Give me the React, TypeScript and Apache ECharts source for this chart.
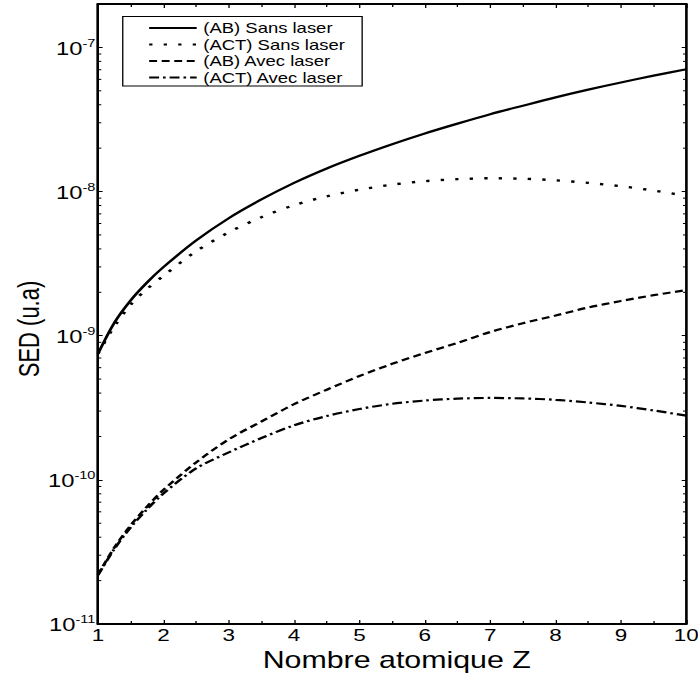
import React, { useEffect, useRef } from "react";
import * as echarts from "echarts";

// The reference is horizontally stretched; draw at natural width and stretch with CSS.
const STRETCH = 1.32;
const PAGE_W = 698;
const PAGE_H = 679;
const CHART_W = PAGE_W / STRETCH;

const seriesNames = [
  "(AB) Sans laser",
  "(ACT) Sans laser",
  "(AB) Avec laser",
  "(ACT) Avec laser",
];

const zValues = [1, 1.25, 1.5, 1.75, 2, 2.5, 3, 3.5, 4, 4.5, 5, 5.5, 6, 6.5, 7, 7.5, 8, 8.5, 9, 9.5, 10];

const abSansLaser = [
  7.5e-10, 1.23e-9, 1.76e-9, 2.34e-9, 2.99e-9, 4.57e-9, 6.53e-9, 8.81e-9, 1.148e-8, 1.445e-8, 1.77e-8,
  2.13e-8, 2.53e-8, 2.96e-8, 3.44e-8, 3.94e-8, 4.5e-8, 5.09e-8, 5.71e-8, 6.37e-8, 7.05e-8,
];

const actSansLaser = [
  7.5e-10, 1.16e-9, 1.64e-9, 2.11e-9, 2.6e-9, 3.85e-9, 5.21e-9, 6.64e-9, 8.04e-9, 9.27e-9, 1.03e-8,
  1.117e-8, 1.18e-8, 1.219e-8, 1.236e-8, 1.227e-8, 1.197e-8, 1.148e-8, 1.089e-8, 1.016e-8, 9.33e-9,
];

const abAvecLaser = [
  2.19e-11, 3.39e-11, 4.84e-11, 6.53e-11, 8.51e-11, 1.32e-10, 1.91e-10, 2.54e-10, 3.35e-10, 4.22e-10, 5.25e-10,
  6.38e-10, 7.59e-10, 8.91e-10, 1.06e-9, 1.22e-9, 1.38e-9, 1.57e-9, 1.74e-9, 1.91e-9, 2.07e-9,
];

const actAvecLaser = [
  2.19e-11, 3.31e-11, 4.68e-11, 6.24e-11, 8.04e-11, 1.2e-10, 1.55e-10, 1.95e-10, 2.39e-10, 2.77e-10, 3.1e-10,
  3.37e-10, 3.55e-10, 3.66e-10, 3.7e-10, 3.67e-10, 3.59e-10, 3.44e-10, 3.26e-10, 3.03e-10, 2.79e-10,
];

const xTickLabels = ["1", "2", "3", "4", "5", "6", "7", "8", "9", "10"];

// minor log ticks: mantissas 2..9 in each decade
const minorMantissas = [2, 3, 4, 5, 6, 7, 8, 9];
const minorExponents = [-11, -10, -9, -8];

const FONT = "Liberation Sans, Arial, Helvetica, sans-serif";

export default function App() {
  const ref = useRef<HTMLDivElement>(null);

  useEffect(() => {
    document.body.style.margin = "0";
    document.body.style.overflow = "hidden";
    if (!ref.current) return;
    const chart = echarts.init(ref.current, undefined, { renderer: "svg" });

    const minorTicks: number[][] = [];
    minorExponents.forEach((e) =>
      minorMantissas.forEach((m) => minorTicks.push([1, m * Math.pow(10, e)]))
    );

    const yLabelFormatter = (v: number) => {
      const lg = Math.log10(v);
      const e = Math.round(lg);
      if (Math.abs(lg - e) > 1e-6) return "";
      return `{b|10}{s|${e}}`;
    };

    const mkSeries = (name: string, vals: number[], type: any, width: number) => ({
      name,
      type: "line",
      data: zValues.map((z, i) => [z, vals[i]]),
      smooth: 0.3,
      symbol: "none",
      showSymbol: false,
      lineStyle: { color: "#000", width, type, cap: "butt" },
      itemStyle: { color: "#000" },
      z: 3,
    });

    const xAxisBase = {
      type: "value",
      min: 1,
      max: 10,
      interval: 1,
      axisLine: { show: true, onZero: false, lineStyle: { color: "#000", width: 2 } },
      axisTick: { show: true, inside: true, length: 4, lineStyle: { color: "#000", width: 1 } },
      minorTick: { show: true, splitNumber: 2, length: 3, lineStyle: { color: "#000", width: 1 } },
      splitLine: { show: false },
      minorSplitLine: { show: false },
    };

    const yAxisBase = {
      type: "log",
      logBase: 10,
      min: 1e-11,
      max: 2e-7,
      axisLine: { show: true, onZero: false, lineStyle: { color: "#000", width: 2 } },
      axisTick: { show: true, inside: true, length: 3.5, lineStyle: { color: "#000", width: 1 } },
      minorTick: { show: false },
      splitLine: { show: false },
    };

    chart.setOption({
      animation: false,
      backgroundColor: "#fff",
      grid: {
        left: 74.24,
        right: CHART_W - 519.7,
        top: 4,
        bottom: 55,
        containLabel: false,
        outerBoundsMode: "none",
      },
      legend: {
        data: seriesNames,
        orient: "vertical",
        left: 93,
        top: 16.5,
        itemWidth: 36,
        itemHeight: 14,
        itemGap: 2.5,
        padding: [4.5, 13, 1.5, 19],
        borderColor: "#000",
        borderWidth: 1,
        backgroundColor: "#fff",
        itemStyle: { opacity: 0, borderWidth: 0 },
        textStyle: { fontFamily: FONT, fontSize: 14, color: "#000" },
      },
      xAxis: [
        {
          ...xAxisBase,
          position: "bottom",
          name: "Nombre atomique Z",
          nameLocation: "middle",
          nameGap: 25,
          nameTextStyle: { fontFamily: FONT, fontSize: 23, color: "#000", padding: [0, 0, 0, 7] },
          axisLabel: {
            show: true,
            margin: 3,
            fontFamily: FONT,
            fontSize: 17,
            color: "#000",
            formatter: (v: number) => xTickLabels[Math.round(v) - 1] ?? "",
          },
        },
        { ...xAxisBase, position: "top", axisLabel: { show: false } },
      ],
      yAxis: [
        {
          ...yAxisBase,
          position: "left",
          axisLabel: {
            show: true,
            margin: 2,
            formatter: yLabelFormatter,
            rich: {
              b: { fontFamily: FONT, fontSize: 18, color: "#000", lineHeight: 20, verticalAlign: "bottom" },
              s: { fontFamily: FONT, fontSize: 11, color: "#000", lineHeight: 12, verticalAlign: "top" },
            },
          },
        },
        { ...yAxisBase, position: "right", axisLabel: { show: false } },
      ],
      graphic: [
        {
          type: "text",
          x: 21.5,
          y: 329,
          rotation: Math.PI / 2,
          style: {
            text: "SED (u.a)",
            fontFamily: FONT,
            fontSize: 22,
            fill: "#000",
            align: "center",
            verticalAlign: "middle",
          },
        },
      ],
      series: [
        mkSeries(seriesNames[0], abSansLaser, "solid", 2.2),
        mkSeries(seriesNames[1], actSansLaser, [2.5, 8.5], 2.4),
        mkSeries(seriesNames[2], abAvecLaser, [6, 3.5], 2.2),
        mkSeries(seriesNames[3], actAvecLaser, [7.5, 3, 2, 3], 2.2),
        {
          type: "custom",
          name: "minorLogTicks",
          data: minorTicks,
          silent: true,
          z: 4,
          renderItem: (_params: any, api: any) => {
            const v = api.value(1);
            const pL = api.coord([1, v]);
            const pR = api.coord([10, v]);
            const st = { stroke: "#000", lineWidth: 1 };
            return {
              type: "group",
              children: [
                { type: "line", shape: { x1: pL[0], y1: pL[1], x2: pL[0] + 2.5, y2: pL[1] }, style: st },
                { type: "line", shape: { x1: pR[0] - 2.5, y1: pR[1], x2: pR[0], y2: pR[1] }, style: st },
              ],
            };
          },
        },
      ],
    });

    return () => chart.dispose();
  }, []);

  return (
    <div style={{ width: PAGE_W, height: PAGE_H, overflow: "hidden" }}>
      <div
        ref={ref}
        style={{
          width: CHART_W,
          height: PAGE_H,
          transform: `scaleX(${STRETCH})`,
          transformOrigin: "0 0",
        }}
      />
    </div>
  );
}
